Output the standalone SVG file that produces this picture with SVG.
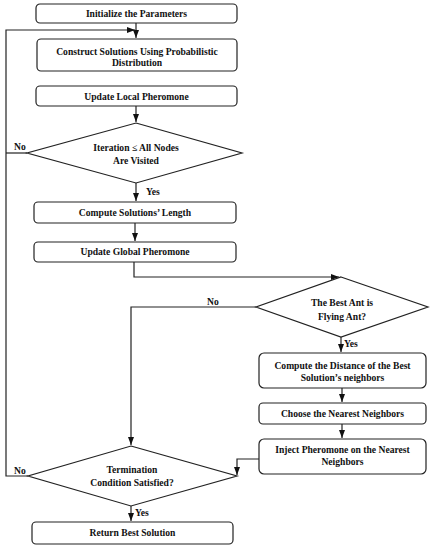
<svg xmlns="http://www.w3.org/2000/svg" width="434" height="550" viewBox="0 0 434 550">
<defs>
<marker id="ah" viewBox="0 0 8 6" refX="8" refY="3" markerWidth="8" markerHeight="6" markerUnits="userSpaceOnUse" orient="auto">
<path d="M0,0 L8,3 L0,6 z" fill="#111"/>
</marker>
<style>
.box{fill:#fff;stroke:#222;stroke-width:1.2}
.t{font-family:'Liberation Serif','DejaVu Serif',serif;font-weight:bold;font-size:9.6px;fill:#111;text-anchor:middle}
.l{font-family:'Liberation Serif','DejaVu Serif',serif;font-weight:bold;font-size:9.6px;fill:#111}
.c{fill:none;stroke:#222;stroke-width:1.2}
.a{marker-end:url(#ah)}
</style>
</defs>
<rect width="434" height="550" fill="#fff"/>
<g id="connectors">
<path class="c a" d="M136,23 V38"/>
<path class="c a" d="M28,476 H6 V30 H135"/>
<path class="c" d="M27,153 H6"/>
<path class="c a" d="M136,106 V122"/>
<path class="c a" d="M136,183 V201"/>
<path class="c a" d="M135,223 V241"/>
<path class="c a" d="M134,262 V277 H339"/>
<path class="c a" d="M256,307 H131 V445"/>
<path class="c a" d="M341,337 V352"/>
<path class="c a" d="M342,388 V402"/>
<path class="c a" d="M342,424 V438"/>
<path class="c a" d="M259,459 H237 V475"/>
<path class="c a" d="M131,506 V521"/>
<text class="l" x="14" y="150">No</text>
<text class="l" x="146" y="195">Yes</text>
<text class="l" x="207" y="305">No</text>
<text class="l" x="344" y="347">Yes</text>
<text class="l" x="14" y="474">No</text>
<text class="l" x="135" y="516">Yes</text>
</g>
<g id="n1"><rect class="box" x="36" y="4" width="201" height="19" rx="4"/><text class="t" x="136.5" y="17">Initialize the Parameters</text></g>
<g id="n2"><rect class="box" x="37" y="39" width="200" height="32" rx="4"/><text class="t" x="137" y="54.5">Construct Solutions Using Probabilistic</text><text class="t" x="137" y="66">Distribution</text></g>
<g id="n3"><rect class="box" x="36" y="86" width="201" height="20" rx="4"/><text class="t" x="136.5" y="99.5">Update Local Pheromone</text></g>
<g id="n4"><polygon class="box" points="136,123 242,153 136,183 27,153"/><text class="t" x="136" y="150.5">Iteration ≤ All Nodes</text><text class="t" x="136" y="163.5">Are Visited</text></g>
<g id="n5"><rect class="box" x="34" y="202" width="202" height="21" rx="4"/><text class="t" x="135" y="216">Compute Solutions’ Length</text></g>
<g id="n6"><rect class="box" x="34" y="242" width="202" height="20" rx="4"/><text class="t" x="135" y="255">Update Global Pheromone</text></g>
<g id="n7"><polygon class="box" points="341,277 428,307 341,337 256,307"/><text class="t" x="342" y="306">The Best Ant is</text><text class="t" x="342" y="320">Flying Ant?</text></g>
<g id="n8"><rect class="box" x="259" y="353" width="167" height="35" rx="5"/><text class="t" x="342.5" y="369">Compute the Distance of the Best</text><text class="t" x="342.5" y="381">Solution’s neighbors</text></g>
<g id="n9"><rect class="box" x="259" y="403" width="167" height="21" rx="4"/><text class="t" x="342.5" y="417">Choose the Nearest Neighbors</text></g>
<g id="n10"><rect class="box" x="259" y="439" width="167" height="35" rx="5"/><text class="t" x="342.5" y="453">Inject Pheromone on the Nearest</text><text class="t" x="342.5" y="465">Neighbors</text></g>
<g id="n11"><polygon class="box" points="131,446 237,476 131,506 28,476"/><text class="t" x="132" y="473">Termination</text><text class="t" x="132" y="486">Condition Satisfied?</text></g>
<g id="n12"><rect class="box" x="32" y="522" width="201" height="22" rx="4"/><text class="t" x="132.5" y="536">Return Best Solution</text></g>
</svg>
